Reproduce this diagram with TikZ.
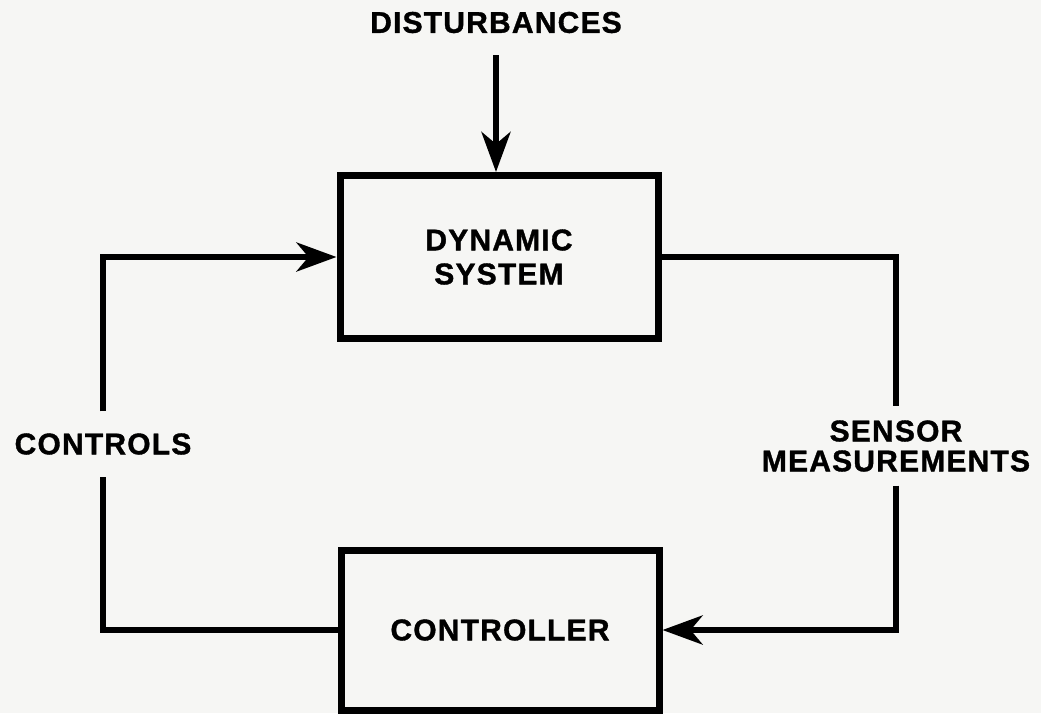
\documentclass[tikz,border=0pt]{standalone}
\usepackage{fontspec}
\setmainfont{Liberation Sans}
\usetikzlibrary{arrows.meta}
\definecolor{paper}{RGB}{246,246,244}
\begin{document}
\begin{tikzpicture}[x=1pt,y=-1pt,
  line width=6pt,
  txt/.style={font=\fontsize{30}{30}\selectfont\bfseries\addfontfeatures{LetterSpace=4,FakeBold=1.2}, align=center},
  blockbox/.style={txt, draw, line width=7pt, minimum width=318pt, inner sep=0pt},
  lbl/.style={txt, inner sep=0pt},
  arr/.style={-{Stealth[length=40pt,width=29pt,inset=12pt]}}
]
\fill[paper] (0,0) rectangle (1041,713);
\useasboundingbox (0,0) rectangle (1041,713);

\node[blockbox, minimum height=163pt] (ds) at (499,257) {DYNAMIC\\[4pt]SYSTEM};
\node[blockbox, minimum height=160pt] (ctrl) at (500,630) {CONTROLLER};
\node[lbl, outer ysep=22pt] (dist) at (496,22.5) {DISTURBANCES};
\node[lbl, outer ysep=22pt] (controls) at (103,444) {CONTROLS};
\node[lbl, outer ysep=14pt] (sensor) at (896,446) {SENSOR\\MEASUREMENTS};

\draw[arr] (dist.south) -- (dist.south |- ds.north);
\draw (ctrl.west) -| (controls.south);
\draw[arr] (controls.north) |- (ds.west);
\draw (ds.east) -| (sensor.north);
\draw[arr] (sensor.south) |- (ctrl.east);
\end{tikzpicture}
\end{document}
